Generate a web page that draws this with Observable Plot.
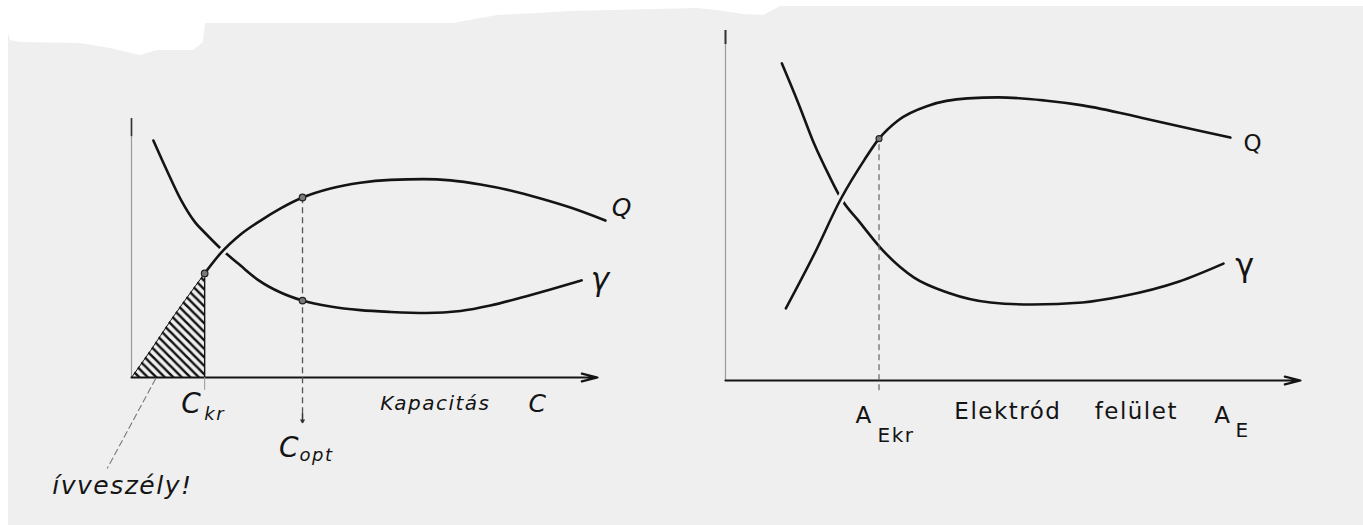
<!DOCTYPE html>
<html>
<head>
<meta charset="utf-8">
<script src="https://cdn.jsdelivr.net/npm/d3@7"></script>
<script src="https://cdn.jsdelivr.net/npm/@observablehq/plot@0.6"></script>
<style>
  html, body { margin: 0; padding: 0; background: #ffffff; }
  #page { position: relative; width: 1363px; height: 525px; overflow: hidden; }
  /* the scanned sheet with its torn upper edge */
  #sheet {
    position: absolute; inset: 0; background: #efefef;
    clip-path: polygon(8px 33px, 10px 40px, 20px 42px, 80px 43px, 110px 48px, 140px 55px,
      157px 50px, 193px 50px, 203px 42px, 205px 23px, 453px 23px, 497px 15px, 537px 13px,
      570px 11px, 697px 8px, 717px 10px, 743px 14px, 763px 15px, 780px 6px, 1363px 6px,
      1363px 525px, 8px 525px);
  }
  #left  { position: absolute; left: 0; top: 0; }
  #right { position: absolute; left: 680px; top: 0; }
  svg text { letter-spacing: 1.5px; }
</style>
</head>
<body>
<div id="page">
  <div id="sheet"></div>
  <div id="left"></div>
  <div id="right"></div>
</div>
<script>
// Left diagram: Q and γ against the capacity C
const capQx = [0, 4.1, 8.4, 12.7, 15.7, 19.1, 23.4, 27.7, 32.0, 36.7, 42.7, 49.1, 55.6, 62.7, 68.5, 74.9, 81.3, 87.8, 94.2, 101.7];
const capQy = [0, 10.4, 22.0, 32.8, 40.2, 47.9, 55.2, 60.6, 65.3, 69.5, 73.0, 75.2, 76.3, 76.6, 76.1, 74.5, 72.2, 69.1, 65.6, 60.6];
const capGx = [4.7, 7.3, 10.7, 13.7, 15.9, 18.9, 23.4, 27.3, 32.0, 36.7, 42.7, 49.1, 55.6, 63.3, 70.6, 77.0, 83.7, 89.9, 96.6];
const capGy = [91.5, 81.1, 68.3, 59.8, 55.6, 50.2, 43.2, 37.5, 32.8, 29.7, 27.4, 26.0, 25.3, 24.9, 25.7, 27.8, 30.9, 34.0, 37.5];
const cKr = 15.7;   // critical capacity
const cOpt = 36.7;  // optimal capacity

// Right diagram: Q and γ against the electrode surface A_E
const surfQx = [10.5, 15.4, 20.1, 24.1, 26.7, 30.0, 35.4, 42.1, 47.5, 55.5, 62.1, 72.3, 82.2, 87.8];
const surfQy = [20.6, 36.0, 52.0, 62.9, 69.1, 74.3, 78.6, 80.6, 80.9, 80.0, 78.6, 75.1, 71.4, 69.4];
const surfGx = [9.8, 12.7, 15.4, 18.0, 20.1, 23.4, 27.4, 32.8, 38.7, 46.1, 53.4, 62.1, 68.8, 78.9, 86.6];
const surfGy = [90.6, 79.1, 67.7, 58.6, 52.0, 45.1, 37.1, 29.4, 25.1, 22.3, 21.7, 22.3, 24.0, 28.3, 33.4];
const aEkr = 26.7;  // critical electrode surface

const ink = "#141414";
const paper = "#efefef";
const curve = "monotone-x";
const sans = "DejaVu Sans";

const toRows = (xs, ys) => xs.map((x, i) => ({x, y: ys[i]}));

const capQ = toRows(capQx, capQy);
const capG = toRows(capGx, capGy);
const surfQ = toRows(surfQx, surfQy);
const surfG = toRows(surfGx, surfGy);

const at = (rows, x) => rows.find(d => d.x === x).y;
const qKr = at(capQ, cKr), qOpt = at(capQ, cOpt), gOpt = at(capG, cOpt);
const qEkr = at(surfQ, aEkr);
const lastOf = rows => [rows[rows.length - 1]];

// hatch pattern for the arcing-hazard region
function addHatch(svg) {
  const defs = d3.select(svg).insert("defs", ":first-child");
  const p = defs.append("pattern")
    .attr("id", "hatch").attr("patternUnits", "userSpaceOnUse")
    .attr("width", 8.5).attr("height", 8.5);
  p.append("path")
    .attr("d", "M0,0L8.5,8.5M-2,6.5L2,10.5M6.5,-2L10.5,2")
    .attr("stroke", ink).attr("stroke-width", 2.5).attr("fill", "none");
}

const text = (label, opts) => Plot.text([label], {text: d => d, fill: ink, fontFamily: sans, ...opts});

// ---------- left ----------
const left = Plot.plot({
  width: 680, height: 525,
  marginLeft: 131, marginRight: 83, marginTop: 118, marginBottom: 148,
  x: {domain: [0, 100], axis: null},
  y: {domain: [0, 100], axis: null},
  style: {background: "transparent", overflow: "visible"},
  marks: [
    // axes
    Plot.ruleX([0], {y1: 0, y2: 100, stroke: "#9a9a9a", strokeWidth: 1.2}),
    Plot.ruleX([0], {y1: 93, y2: 100, stroke: "#333", strokeWidth: 1.6}),
    Plot.arrow([0], {x1: 0, y1: 0, x2: 100, y2: 0, stroke: ink, strokeWidth: 2.2, headLength: 11, headAngle: 28}),
    // hatched arcing-hazard region below C_kr
    Plot.areaY(capQ.filter(d => d.x <= cKr), {x: "x", y: "y", fill: "url(#hatch)", curve}),
    Plot.line(capQ.filter(d => d.x <= cKr), {x: "x", y: "y", stroke: ink, strokeWidth: 1, curve}),
    Plot.ruleX([cKr], {y1: 0, y2: qKr, stroke: ink, strokeWidth: 1.4}),
    Plot.ruleX([cKr], {y1: -5, y2: 0, stroke: "#999", strokeWidth: 1}),
    // curves
    Plot.line(capG, {x: "x", y: "y", stroke: ink, strokeWidth: 2.6, curve}),
    Plot.line(capQ.filter(d => d.x >= cKr), {x: "x", y: "y", stroke: paper, strokeWidth: 8, curve}),
    Plot.line(capQ.filter(d => d.x >= cKr), {x: "x", y: "y", stroke: ink, strokeWidth: 2.6, curve}),
    // optimum
    Plot.ruleX([cOpt], {y1: -14, y2: qOpt, stroke: "#555", strokeWidth: 1.3, strokeDasharray: "6,4"}),
    Plot.arrow([cOpt], {x1: d => d, x2: d => d, y1: -14, y2: -17.4, stroke: "#333", strokeWidth: 1.5, headLength: 6}),
    Plot.dot([{x: cKr, y: qKr}, {x: cOpt, y: qOpt}, {x: cOpt, y: gOpt}], {x: "x", y: "y", r: 3.3, fill: "#7a7a7a", stroke: "#222", strokeWidth: 1.2}),
    // leader to the warning
    Plot.link([0], {x1: 5.2, y1: -0.4, x2: -5.2, y2: -35.1, stroke: "#777", strokeWidth: 1.1, strokeDasharray: "7,3"}),
    // curve names
    Plot.text(lastOf(capQ), {x: "x", y: "y", text: () => "Q", dx: 17, dy: -13, fill: ink, fontFamily: sans, fontStyle: "italic", fontSize: 25}),
    Plot.text(lastOf(capG), {x: "x", y: "y", text: () => "γ", dx: 19, dy: 0, fill: ink, fontFamily: sans, fontStyle: "italic", fontSize: 31}),
    // axis annotations
    text("C", {x: cKr, y: 0, dx: -13, dy: 27, fontSize: 28, fontStyle: "italic"}),
    text("kr", {x: cKr, y: 0, dx: 10, dy: 37, fontSize: 18, fontStyle: "italic"}),
    text("C", {x: cOpt, y: 0, dx: -13, dy: 71, fontSize: 28, fontStyle: "italic"}),
    text("opt", {x: cOpt, y: 0, dx: 14, dy: 78, fontSize: 18, fontStyle: "italic"}),
    text("Kapacitás", {x: 53.4, y: 0, dy: 26, textAnchor: "start", fontSize: 20, fontStyle: "italic"}),
    text("C", {x: 85.2, y: 0, dy: 26, textAnchor: "start", fontSize: 25, fontStyle: "italic"}),
    text("ívveszély!", {x: -17, y: 0, dy: 108, textAnchor: "start", fontSize: 25, fontStyle: "italic"})
  ]
});
addHatch(left);
document.getElementById("left").append(left);

// ---------- right ----------
const right = Plot.plot({
  width: 683, height: 525,
  marginLeft: 45, marginRight: 63, marginTop: 30, marginBottom: 145,
  x: {domain: [0, 100], axis: null},
  y: {domain: [0, 100], axis: null},
  style: {background: "transparent", overflow: "visible"},
  marks: [
    Plot.ruleX([0], {y1: 0, y2: 100, stroke: "#9a9a9a", strokeWidth: 1.2}),
    Plot.ruleX([0], {y1: 96, y2: 100, stroke: "#333", strokeWidth: 2}),
    Plot.arrow([0], {x1: 0, y1: 0, x2: 100, y2: 0, stroke: ink, strokeWidth: 2.2, headLength: 11, headAngle: 28}),
    Plot.line(surfG, {x: "x", y: "y", stroke: ink, strokeWidth: 2.6, curve}),
    Plot.line(surfQ, {x: "x", y: "y", stroke: paper, strokeWidth: 8, curve}),
    Plot.line(surfQ, {x: "x", y: "y", stroke: ink, strokeWidth: 2.6, curve}),
    Plot.ruleX([aEkr], {y1: -2.9, y2: qEkr, stroke: "#666", strokeWidth: 1.2, strokeDasharray: "6,4"}),
    Plot.dot([{x: aEkr, y: qEkr}], {x: "x", y: "y", r: 3, fill: "#7a7a7a", stroke: "#222", strokeWidth: 1.1}),
    Plot.text(lastOf(surfQ), {x: "x", y: "y", text: () => "Q", dx: 23, dy: 6, fill: ink, fontFamily: sans, fontSize: 23}),
    Plot.text(lastOf(surfG), {x: "x", y: "y", text: () => "γ", dx: 22, dy: 2, fill: ink, fontFamily: sans, fontSize: 32}),
    text("A", {x: aEkr, y: 0, dx: -15, dy: 35, fontSize: 23}),
    text("Ekr", {x: aEkr, y: 0, dx: 17, dy: 55, fontSize: 20}),
    text("Elektród", {x: 39.8, y: 0, dy: 31, textAnchor: "start", fontSize: 23}),
    text("felület", {x: 64.2, y: 0, dy: 31, textAnchor: "start", fontSize: 23}),
    text("A", {x: 85.0, y: 0, dy: 35, textAnchor: "start", fontSize: 23}),
    text("E", {x: 88.7, y: 0, dy: 50, textAnchor: "start", fontSize: 20})
  ]
});
document.getElementById("right").append(right);
</script>
</body>
</html>
